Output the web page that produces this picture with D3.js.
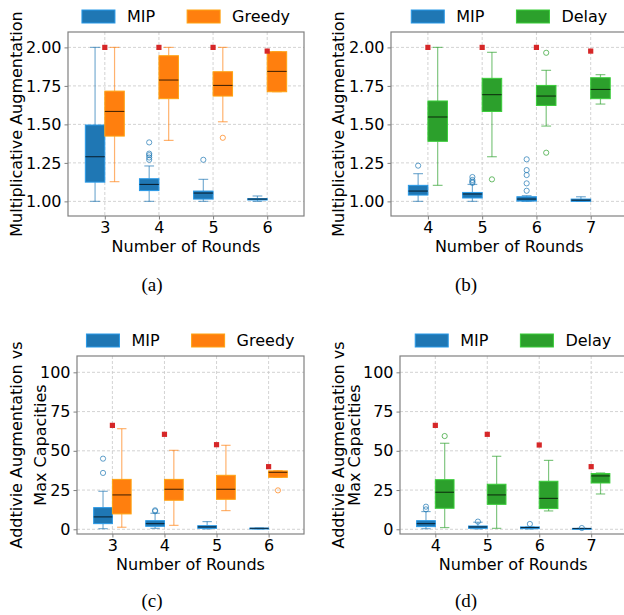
<!DOCTYPE html>
<html>
<head>
<meta charset="utf-8">
<script src="https://cdn.jsdelivr.net/npm/d3@7"></script>
<style>
  body { margin: 0; background: #fff; }
  svg { display: block; font-family: "DejaVu Sans", sans-serif; }
</style>
</head>
<body>
<svg id="chart" width="624" height="615"></svg>
<script>
// box stats: [low whisker, q1, median, q3, high whisker]
var roundsA = [3, 4, 5, 6];
var mipA = [[1.00, 1.125, 1.29, 1.496, 2.00], [1.00, 1.07, 1.11, 1.147, 1.23], [1.00, 1.015, 1.054, 1.067, 1.143], [1.00, 1.009, 1.015, 1.018, 1.035]];
var mipOutA = [[], [1.27, 1.285, 1.30, 1.31, 1.383], [1.27], []];
var greedyA = [[1.128, 1.424, 1.584, 1.716, 2.00], [1.396, 1.667, 1.788, 1.946, 2.00], [1.517, 1.684, 1.753, 1.842, 2.00], [1.712, 1.712, 1.844, 1.972, 1.972]];
var greedyOutA = [[], [], [1.413], []];
var worstA = [2.00, 2.00, 2.00, 1.976];

var roundsB = [4, 5, 6, 7];
var mipB = [[1.00, 1.041, 1.067, 1.104, 1.18], [1.00, 1.022, 1.048, 1.058, 1.11], [1.00, 1.002, 1.015, 1.03, 1.037], [1.00, 1.00, 1.008, 1.015, 1.03]];
var mipOutB = [[1.232], [1.12, 1.128, 1.139, 1.158], [1.069, 1.117, 1.171, 1.203, 1.273], []];
var delayB = [[1.104, 1.39, 1.548, 1.652, 2.00], [1.29, 1.584, 1.693, 1.799, 1.968], [1.489, 1.623, 1.684, 1.753, 1.851], [1.632, 1.667, 1.727, 1.803, 1.823]];
var delayOutB = [[], [1.143], [1.316, 1.965], []];
var worstB = [2.00, 2.00, 2.00, 1.976];

var roundsC = [3, 4, 5, 6];
var mipC = [[0.4, 3.6, 7.9, 13.8, 24.2], [0.6, 1.9, 3.6, 5.5, 10.2], [0.2, 0.6, 1.5, 2.3, 4.9], [0.2, 0.4, 0.6, 0.8, 0.8]];
var mipOutC = [[35.9, 45.0], [11.5, 12.1], [], []];
var greedyC = [[1.3, 9.8, 21.9, 31.8, 64.1], [2.5, 18.5, 25.5, 31.8, 50.3], [11.9, 19.1, 25.5, 34.4, 53.5], [33.1, 33.1, 36.3, 37.2, 37.4]];
var greedyOutC = [[], [], [], [24.8]];
var worstC = [66.2, 60.5, 53.9, 39.9];

var roundsD = [4, 5, 6, 7];
var mipD = [[0.4, 1.7, 3.6, 5.5, 11.3], [0.2, 0.6, 1.5, 2.1, 4.5], [0.2, 0.4, 1.1, 1.5, 1.5], [0.3, 0.4, 0.5, 0.6, 0.6]];
var mipOutD = [[12.7, 14.4], [4.9], [3.4], [0.8]];
var delayD = [[1.1, 13.4, 23.6, 31.6, 54.8], [0.6, 15.9, 21.9, 28.7, 46.5], [11.7, 13.2, 19.7, 30.6, 43.9], [22.5, 29.5, 34.0, 35.5, 35.9]];
var delayOutD = [[59.4], [], [], []];
var worstD = [66.2, 60.5, 53.7, 39.9];

var multTicks = [1.00, 1.25, 1.50, 1.75, 2.00];
var addTicks = [0, 25, 50, 75, 100];

var BLUE = "#1f77b4", ORANGE = "#ff7f0e", GREEN = "#2ca02c", RED = "#d62728";

var svg = d3.select("#chart");

function drawPanel(p) {
	var g = svg.append("g");
	var x = d3.scaleLinear().domain([p.rounds[0] - 0.68, p.rounds[3] + 0.68]).range([p.left, p.right]);
	var y = d3.scaleLinear().domain(p.ydomain).range([p.bottom, p.top]);
	var bw = x(0.36) - x(0);

	// grid
	g.selectAll(".gy").data(p.yticks).enter().append("line")
		.attr("x1", p.left).attr("x2", p.right)
		.attr("y1", (d) => y(d)).attr("y2", (d) => y(d))
		.attr("stroke", "#c8c8c8").attr("stroke-dasharray", "3,2").attr("stroke-width", 0.8);
	g.selectAll(".gx").data(p.rounds).enter().append("line")
		.attr("x1", (d) => x(d)).attr("x2", (d) => x(d))
		.attr("y1", p.top).attr("y2", p.bottom)
		.attr("stroke", "#c8c8c8").attr("stroke-dasharray", "3,2").attr("stroke-width", 0.8);

	// boxes
	var series = [
		{ stats: p.mip, out: p.mipOut, color: BLUE, off: -0.36 },
		{ stats: p.other, out: p.otherOut, color: p.otherColor, off: 0 }
	];
	series.forEach(function(s) {
		var light = d3.color(s.color).brighter(0.7);
		s.stats.forEach(function(st, i) {
			var x0 = x(p.rounds[i] + s.off), xc = x0 + bw / 2;
			var bg = g.append("g");
			// whiskers
			bg.append("line").attr("x1", xc).attr("x2", xc).attr("y1", y(st[0])).attr("y2", y(st[1]))
				.attr("stroke", s.color).attr("stroke-opacity", 0.6).attr("stroke-width", 1.2);
			bg.append("line").attr("x1", xc).attr("x2", xc).attr("y1", y(st[3])).attr("y2", y(st[4]))
				.attr("stroke", s.color).attr("stroke-opacity", 0.6).attr("stroke-width", 1.2);
			[st[0], st[4]].forEach(function(v) {
				bg.append("line").attr("x1", xc - bw / 4).attr("x2", xc + bw / 4).attr("y1", y(v)).attr("y2", y(v))
					.attr("stroke", s.color).attr("stroke-opacity", 0.6).attr("stroke-width", 1.2);
			});
			bg.append("rect")
				.attr("x", x0).attr("width", bw)
				.attr("y", y(st[3])).attr("height", Math.max(1, y(st[1]) - y(st[3])))
				.attr("fill", s.color).attr("stroke", light).attr("stroke-width", 1);
			bg.append("line").attr("x1", x0).attr("x2", x0 + bw).attr("y1", y(st[2])).attr("y2", y(st[2]))
				.attr("stroke", "#000").attr("stroke-opacity", 0.7).attr("stroke-width", 1.1);
			bg.selectAll("circle").data(s.out[i]).enter().append("circle")
				.attr("cx", xc).attr("cy", (d) => y(d)).attr("r", 2.6)
				.attr("fill", "none").attr("stroke", s.color).attr("stroke-opacity", 0.7).attr("stroke-width", 1);
		});
	});

	// worst-case markers
	g.selectAll(".worst").data(p.worst).enter().append("rect")
		.attr("x", (d, i) => x(p.rounds[i]) - 2.6).attr("y", (d) => y(d) - 2.6)
		.attr("width", 5.2).attr("height", 5.2).attr("fill", RED);

	// frame
	g.append("rect").attr("x", p.left).attr("y", p.top)
		.attr("width", p.right - p.left).attr("height", p.bottom - p.top)
		.attr("fill", "none").attr("stroke", "#808080").attr("stroke-width", 1.2);

	// axes
	var xa = g.append("g").attr("transform", "translate(0," + p.bottom + ")")
		.call(d3.axisBottom(x).tickValues(p.rounds).tickSize(3.5).tickPadding(2).tickFormat(d3.format("d")));
	var ya = g.append("g").attr("transform", "translate(" + p.left + ",0)")
		.call(d3.axisLeft(y).tickValues(p.yticks).tickSize(3.5).tickPadding(3).tickFormat(p.yfmt));
	[xa, ya].forEach(function(a) {
		a.select(".domain").remove();
		a.selectAll(".tick line").attr("stroke", "#808080");
		a.selectAll(".tick text").attr("font-size", 16).attr("font-family", "DejaVu Sans").attr("fill", "#000");
	});

	g.append("text").attr("x", (p.left + p.right) / 2).attr("y", p.bottom + 36)
		.attr("text-anchor", "middle").attr("font-size", 16).text("Number of Rounds");

	var cy = (p.top + p.bottom) / 2;
	p.ylabel.forEach(function(line, i) {
		g.append("text")
			.attr("transform", "translate(" + p.ylabelX[i] + "," + cy + ") rotate(-90)")
			.attr("text-anchor", "middle").attr("dominant-baseline", "central")
			.attr("font-size", 16).text(line);
	});

	// legend
	var lg = g.append("g");
	var names = ["MIP", p.otherName], cols = [BLUE, p.otherColor];
	var items = names.map(function(n, i) {
		var t = lg.append("text").attr("y", p.top - 10).attr("font-size", 16).text(n);
		return { t: t, w: t.node().getComputedTextLength(), c: cols[i] };
	});
	var total = 33 + 12 + items[0].w + 32 + 33 + 12 + items[1].w;
	var cx = (p.left + p.right) / 2 - total / 2;
	items.forEach(function(it) {
		lg.append("rect").attr("x", cx).attr("y", p.top - 22).attr("width", 33).attr("height", 13)
			.attr("fill", it.c).attr("stroke", d3.color(it.c).brighter(0.7)).attr("stroke-width", 1);
		it.t.attr("x", cx + 45);
		cx += 45 + it.w + 32;
	});

	svg.append("text").attr("x", p.capX).attr("y", p.capY)
		.attr("text-anchor", "middle").attr("font-family", "Liberation Serif, serif")
		.attr("font-size", 19).text(p.caption);
}

var fmt2 = d3.format(".2f");
var fmt0 = d3.format("d");

drawPanel({ rounds: roundsA, mip: mipA, mipOut: mipOutA, other: greedyA, otherOut: greedyOutA, worst: worstA,
	otherName: "Greedy", otherColor: ORANGE, left: 68, right: 304, top: 32, bottom: 216,
	ydomain: [0.905, 2.1], yticks: multTicks, yfmt: fmt2, ylabel: ["Multiplicative Augmentation"], ylabelX: [16],
	caption: "(a)", capX: 152, capY: 291 });
drawPanel({ rounds: roundsB, mip: mipB, mipOut: mipOutB, other: delayB, otherOut: delayOutB, worst: worstB,
	otherName: "Delay", otherColor: GREEN, left: 391, right: 627.6, top: 32, bottom: 216,
	ydomain: [0.905, 2.1], yticks: multTicks, yfmt: fmt2, ylabel: ["Multiplicative Augmentation"], ylabelX: [338],
	caption: "(b)", capX: 466, capY: 291 });
drawPanel({ rounds: roundsC, mip: mipC, mipOut: mipOutC, other: greedyC, otherOut: greedyOutC, worst: worstC,
	otherName: "Greedy", otherColor: ORANGE, left: 77, right: 304, top: 356, bottom: 534,
	ydomain: [-3, 110.4], yticks: addTicks, yfmt: fmt0, ylabel: ["Addtivie Augmentation vs", "Max Capacities"], ylabelX: [16, 40],
	caption: "(c)", capX: 152, capY: 607 });
drawPanel({ rounds: roundsD, mip: mipD, mipOut: mipOutD, other: delayD, otherOut: delayOutD, worst: worstD,
	otherName: "Delay", otherColor: GREEN, left: 400, right: 626.5, top: 356, bottom: 534,
	ydomain: [-3, 110.4], yticks: addTicks, yfmt: fmt0, ylabel: ["Addtivie Augmentation vs", "Max Capacities"], ylabelX: [338, 354],
	caption: "(d)", capX: 466, capY: 607 });
</script>
</body>
</html>
